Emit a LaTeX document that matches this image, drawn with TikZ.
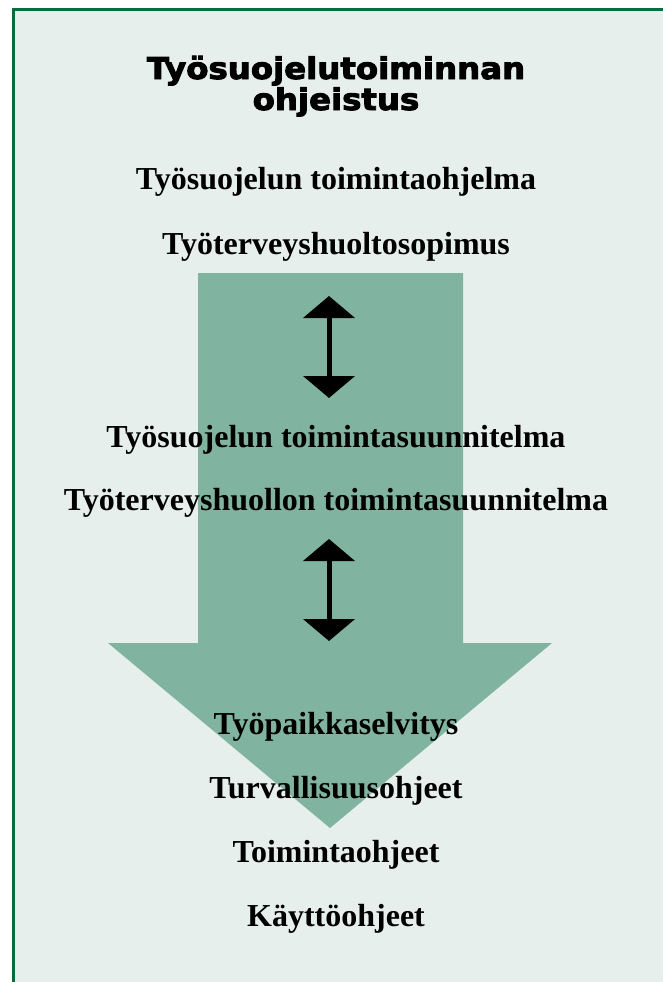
\documentclass[tikz,border=0pt]{standalone}
\usepackage{fontspec}
\setmainfont{Liberation Serif}
\newfontfamily\heavyfont{DejaVu Sans}[BoldFeatures={FakeBold=3}]
\usetikzlibrary{arrows.meta}
\definecolor{paneback}{HTML}{E6EFEB}
\definecolor{bigarrow}{HTML}{80B4A0}
\definecolor{frameline}{HTML}{0B6B40}
\newcommand{\widetitle}[1]{\scalebox{1.08}[1]{#1}}
\tikzset{
  item/.style={font=\fontsize{32}{36}\selectfont\bfseries, anchor=base, inner sep=0pt},
  headline/.style={font=\heavyfont\fontsize{30}{32}\selectfont\bfseries, anchor=base, inner sep=0pt},
  twoway/.style={line width=5pt, {Triangle[length=22pt,width=51pt]}-{Triangle[length=22pt,width=51pt]}}
}

\begin{document}
\begin{tikzpicture}[x=1pt,y=-1pt]
  \useasboundingbox (0,0) rectangle (663,982);
  \fill[paneback] (13,9) rectangle (663,982);
  \draw[frameline, line width=2.5pt] (13.3,982) -- (13.3,9.3) -- (663,9.3);
  \fill[bigarrow] (198,273) -- (463,273) -- (463,643) -- (552,643) -- (330,828) -- (108,643) -- (198,643) -- cycle;
  \coordinate (up1) at (329,296);
  \coordinate (down1) at (329,398);
  \coordinate (up2) at (329,539);
  \coordinate (down2) at (329,641);
  \draw[twoway] (up1) -- (down1);
  \draw[twoway] (up2) -- (down2);
  \node[headline] (title) at (336,79) {\widetitle{Työsuojelutoiminnan}};
  \node[headline] (subtitle) at (336,110) {\widetitle{ohjeistus}};
  \node[item] (programme) at (336,189) {Työsuojelun toimintaohjelma};
  \node[item] (contract) at (336,254) {Työterveyshuoltosopimus};
  \node[item] (safetyplan) at (336,447) {Työsuojelun toimintasuunnitelma};
  \node[item] (careplan) at (336,510) {Työterveyshuollon toimintasuunnitelma};
  \node[item] (survey) at (336,734) {Työpaikkaselvitys};
  \node[item] (safety) at (336,798) {Turvallisuusohjeet};
  \node[item] (actions) at (336,862) {Toimintaohjeet};
  \node[item] (usage) at (336,926) {Käyttöohjeet};
\end{tikzpicture}
\end{document}
